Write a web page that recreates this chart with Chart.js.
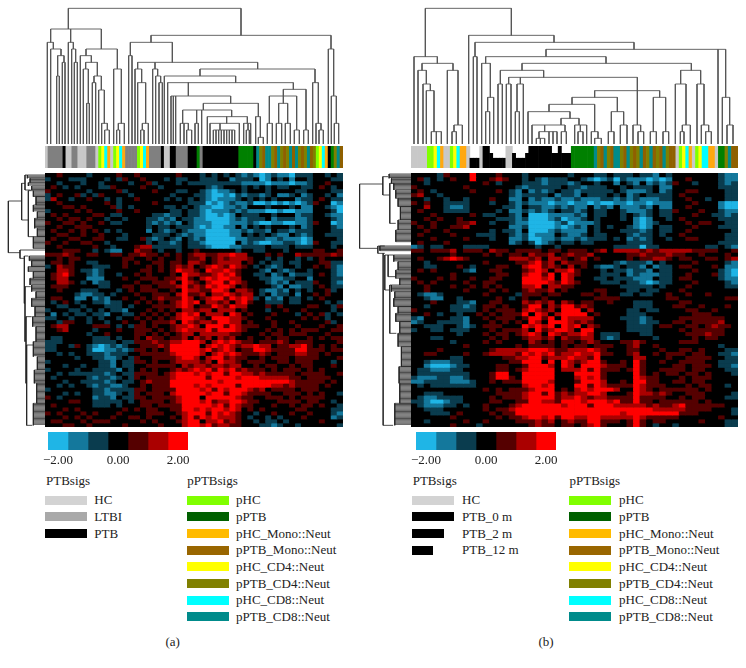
<!DOCTYPE html>
<html><head><meta charset="utf-8">
<script src="https://cdn.jsdelivr.net/npm/chart.js@4"></script>
<style>
html,body{margin:0;padding:0;background:#fff;width:746px;height:668px;overflow:hidden}
canvas{position:absolute;display:block}
#heatA,#heatB{background:#000}
.t{position:absolute;font:13px 'Liberation Serif',serif;color:#222;white-space:nowrap;line-height:14px}
.s{position:absolute;height:9px}
</style></head><body>
<script>
const heatColors=['#1fb5e6','#14789c','#0a3c4e','#000000','#550000','#aa0000','#ff0000'];
const scaleBins=[-2.333,-1.667,-1,-0.333,0.333,1,1.667,2.333];
const scaleTicks=[-2,0,2];
const annotColors={L:'#c8c8c8',G:'#808080',K:'#000000',P:'#80ff00',D:'#008000',O:'#ffa810',B:'#8f6000',Y:'#ffff00',V:'#808000',C:'#00ffff',T:'#008b8b'};

const heatRowsA=[
"33433 33233 33433 43333 33433 32323 23212 10121 10222 33232",
"23332 22333 23243 34333 23223 32223 31222 30132 31332 33322",
"33233 32332 33332 33423 33232 22222 22211 11011 10112 33433",
"34323 23332 24333 34332 33333 33212 33323 23232 23322 34323",
"43333 33233 33423 33343 33223 32101 12323 33233 33223 33322",
"23433 42324 33332 33333 32333 22100 10212 21231 12312 33231",
"25332 33433 23233 43333 23232 32101 11232 32323 33122 34322",
"33433 33333 43233 33343 33332 22010 12112 00101 01012 43301",
"33344 34333 34232 33333 22323 21100 11213 33233 32311 33210",
"23333 43433 33433 43333 32232 21011 12121 11001 00111 33320",
"34343 33344 32233 33322 12232 21001 01322 23323 33122 33211",
"33434 43433 23323 33221 21322 11000 01212 22312 22112 33321",
"43344 34334 32233 33212 12132 11100 01112 10011 00112 43301",
"33433 44433 33333 33232 23222 10100 11313 23233 32312 33321",
"34334 34343 23233 33132 12321 11000 01121 22132 21222 33322",
"33443 34334 33323 33322 23212 11000 01132 32321 13212 33222",
"34334 43344 33223 34212 32132 12000 00112 22112 11101 33332",
"43343 34433 23333 33232 21232 21000 00312 10011 22101 43322",
"33433 33343 32333 45522 22232 22100 01122 22322 23222 33323",
"33344 43323 21133 54432 33233 43333 33233 22333 23333 44334",
"44454 33443 34434 45443 43434 55445 56553 33434 33544 44454",
"33434 43333 33344 33434 33434 45345 45554 33232 33232 34333",
"34434 33223 33343 43344 34435 54345 55534 32322 32233 34422",
"23544 33322 23343 33434 34545 34565 46543 23212 33233 43421",
"33554 32212 33333 34434 34655 43655 65433 32132 12332 33321",
"34564 33212 33233 43433 34365 54456 56433 22312 31222 34321",
"34553 33111 33343 34443 44564 35656 65533 32211 22331 33322",
"33554 32312 23333 43344 45365 43566 46543 33212 13222 43321",
"34443 33332 23344 34434 44564 54656 65343 33321 31122 34322",
"33433 32223 33234 34443 34365 54466 53554 32112 13232 33423",
"33333 21122 32333 43344 43564 45355 65455 32312 23133 43433",
"34433 11312 13343 34345 44465 34566 46565 23121 32232 34333",
"32343 23322 12233 43434 34565 63554 53564 33222 32233 33232",
"33223 32333 22232 33344 44565 34465 46553 33434 33334 43324",
"23332 23232 32213 33434 34355 45535 55343 33233 43343 33323",
"31323 22322 13322 34343 43565 63555 36534 33343 33234 34232",
"22332 33232 33233 43434 34566 54366 65543 33433 33343 43233",
"33244 33233 23343 34344 45365 45546 65534 33343 34333 33423",
"34553 33344 43232 44343 34556 53666 46544 43343 33433 34334",
"33453 33323 33433 44434 34565 55646 66543 33434 34344 43344",
"33333 33233 43333 44343 43455 35555 54433 34344 34443 33433",
"32233 33322 23233 43544 34453 54535 45334 33434 43334 34344",
"22233 33322 22322 44454 45566 65356 56544 34445 43444 33334",
"22332 43210 12123 34445 46666 63565 65455 65534 45564 34343",
"22333 33200 11212 44343 46666 65645 65344 66544 44664 44344",
"33232 33222 12223 34444 45666 65356 56544 45434 44554 43433",
"33333 23322 11232 43344 44566 53566 45443 34344 43444 43334",
"23333 33332 21322 44343 34555 54536 55434 44334 43444 33323",
"33323 32332 21322 33444 44354 55455 45533 43443 34344 33343",
"23333 23322 22132 34343 34545 65646 56454 44343 44434 34333",
"33232 22222 12322 44443 45666 56566 46655 45444 44344 44334",
"32333 33212 21232 43444 45666 66466 66566 65555 54434 44433",
"33323 32222 12322 34544 46666 66665 66666 66666 65444 44343",
"33232 33212 21123 34344 46666 56566 66466 66655 45444 43433",
"23333 33322 12222 44344 44666 65646 56665 45344 44344 43333",
"33323 23322 11232 43444 35666 66566 46654 44433 44434 34332",
"43233 33312 21322 44344 44566 63666 66544 33444 34344 44333",
"33334 43322 22232 34444 34566 65645 56654 43334 44434 43323",
"34333 33322 23233 34434 44466 66656 46544 33343 34344 34332",
"33343 43333 33343 43443 34466 56566 56534 34333 33443 33322",
"43433 34343 33433 33444 33456 66465 65433 23343 34334 33321",
"33343 43433 34334 43433 34356 46565 55432 33232 33343 33312",
"34433 34344 43333 34343 33456 63556 45433 23223 23333 34333",
"33344 33433 33343 33334 33356 65645 54433 32212 33233 33332"];

const heatRowsB=[
"33332 43336 33343 33233 33332 33322 32223 22132 33333 33211",
"34232 34336 33454 33232 12223 32101 20211 10101 33433 33211",
"33233 33333 34323 33222 12221 23323 31321 31212 43323 33212",
"43333 33343 33333 32122 22232 21222 33232 22311 33333 33222",
"34323 33334 33343 21312 12322 12222 23211 12312 33443 33322",
"45332 33333 33333 21222 23122 13222 32312 32222 34333 33322",
"33233 23323 33433 11312 11211 21112 21212 11122 33433 23322",
"43433 22223 33233 21211 10110 11010 01101 10111 33343 33100",
"33533 21123 33332 21322 11212 11312 13111 21311 33433 33100",
"34333 22223 33323 11212 12322 12322 33211 12322 43334 33211",
"33343 33334 32233 21300 01111 21322 33232 12322 33343 32212",
"33434 33433 33322 21200 01201 12323 33231 01332 34333 33222",
"43343 33445 33233 21100 00120 11123 33331 01233 33434 43322",
"34343 34453 33333 11200 00101 21323 23321 01322 33343 33222",
"33433 43333 33232 21300 01211 11323 33222 12322 33433 33332",
"34333 34333 22233 21201 11321 12322 33321 22323 34333 33322",
"33343 33343 33233 11200 11211 21222 32312 12332 33443 33322",
"34333 43333 33333 12320 12322 32233 33322 22333 33333 33222",
"12322 33322 22333 33332 33233 33333 32222 02233 33333 22321",
"44344 45344 43544 34444 34434 44345 35555 45455 55544 44334",
"33333 34333 34343 44354 45345 44533 33344 54445 44334 33343",
"34334 56543 33333 55545 35543 45343 33343 44554 34433 44345",
"33233 33333 34333 34456 45354 44333 32122 21323 33343 33321",
"33223 33432 33344 33566 45435 34321 12322 13122 34433 34311",
"34343 33321 33443 33456 53556 43332 32212 21322 33343 33210",
"33333 34333 33344 33566 46365 43332 22312 11122 33433 34210",
"43334 34334 33443 33666 56365 33322 32221 11322 34433 33211",
"34343 33343 34433 33666 65465 43332 22322 10122 33343 33321",
"33433 34334 34343 33556 35544 33333 33222 22323 33433 33322",
"33433 33343 33434 33454 45343 33344 33322 32233 34333 33333",
"32112 33333 34333 32444 34433 34434 33223 22334 33433 43333",
"33211 33233 33343 23433 43333 33344 44333 33334 43333 33344",
"33343 33221 33443 33545 45354 34433 43332 22333 34433 33333",
"33233 32212 34434 33466 35466 45433 33332 22333 44334 33343",
"43333 32222 34344 43565 45366 63533 33322 32233 33443 34333",
"33432 33233 43434 44636 53566 66343 33322 23333 33344 43333",
"21333 32213 34344 43466 46365 55533 33222 12333 34444 44433",
"12332 22213 33434 34365 36665 45433 33322 12233 44344 44533",
"33222 33212 34443 33656 56365 63543 33322 22344 33443 45443",
"23322 32223 33434 44536 45665 36633 33322 22333 34344 44433",
"33333 33233 34344 34565 36545 56532 22333 22333 33444 54433",
"33322 33333 33434 33455 45354 45532 12333 33233 33343 44333",
"33333 32333 34343 33354 34344 34543 33445 43333 34443 33333",
"33333 33343 33333 34344 44343 44344 43345 33433 33333 33233",
"33334 33333 33455 55566 65445 55654 33344 33343 34434 33322",
"33443 33343 34555 54656 56455 65564 43345 33434 44344 33221",
"33333 32233 33334 45566 45556 55463 33335 53334 33444 43322",
"33211 12233 33333 44666 36365 45664 33436 43343 34444 33222",
"33100 01223 33344 33466 65365 36665 44436 43333 44344 43221",
"32211 12233 33344 34566 66355 56464 44346 43344 44344 33322",
"32222 22223 33466 33666 66333 66664 33336 43434 43443 43332",
"21112 21123 33466 43666 66333 56564 33336 54433 34344 43333",
"11222 21112 33434 44666 65333 46665 33436 64433 44344 33333",
"32322 22222 33333 33566 56333 66465 44446 54443 33434 43323",
"33333 33333 34343 44456 66343 56566 65336 54344 44443 43333",
"33222 33333 33344 44566 46454 55665 33346 55454 33444 33332",
"32112 22233 33434 44566 66455 65455 44446 44443 34344 33322",
"22100 12233 33443 34466 55466 65666 56446 44344 44443 43333",
"32111 22323 34333 45666 66656 66466 65555 54544 56444 44433",
"33222 33333 34344 56666 66666 66666 66666 66555 55444 43332",
"33322 23433 33434 46666 66666 66666 66566 66666 64443 33332",
"33333 34333 33343 44566 56466 55665 55556 54444 43333 33433",
"33233 33343 34333 34445 45345 44664 44346 43443 33334 33322",
"33333 34333 23333 33345 44344 34564 33346 43233 23333 33322"];

const annotA="LGGGGGKLLGGLLLGGGL PYCO L PYCO GGGG PYCO GGGG K LL KK GGGG KKK D G KKKKKKKKKKKK DDDDD K TVBTTVBTVBVTBTVBVTBV PYCO K D V T B";
const annotB="LLLLL PPYCO LLPYCOOL KKK L KK K KKKK LL K KKK K KKKKKKK KK K KKK DDDDDDD TVBTVBTTVBTVBVTBVTBVBTVBB L PYCO L PYCCOO L DD V T BB";
const annotHeightB="999999999999999999 444 9 99 6 4444 99 6 444 6 9999999 66 9 666";

// dendrogram merges: [merge height, child position, child height, child position, child height, ...]
const LEAF=432;
const treeTopA=[
[25,205,87,723,106],[87,152,127,212,127,304,147],[127,142,LEAF,160,147],[147,152,LEAF,183,167],[167,173,228,192,187],
[228,170,LEAF,178,LEAF],[187,187,LEAF,195,LEAF],[127,205,LEAF,220,147],[147,215,LEAF,227,187],[187,223,LEAF,232,LEAF],
[147,258,167,352,207],[167,241,LEAF,274,187],[187,257,207,292,228],[207,250,LEAF,265,310],[310,260,LEAF,268,LEAF],
[228,282,248,304,270],[248,277,LEAF,287,LEAF],[270,296,LEAF,313,370],[370,305,LEAF,322,390],[390,314,LEAF,328,LEAF],
[207,341,LEAF,364,370],[370,355,390,373,LEAF],[390,350,LEAF,359,LEAF],
[106,453,127,993,147],[127,391,167,517,187],[167,386,LEAF,396,LEAF],[187,413,207,465,207,773,207],
[207,405,LEAF,425,248],[248,413,LEAF,437,370],[370,427,390,445,LEAF],[390,422,LEAF,432,LEAF],
[207,458,LEAF,473,228],[228,467,LEAF,482,248],[248,477,LEAF,487,LEAF],
[207,600,228,945,248],[228,493,LEAF,707,248],[248,503,LEAF,565,288,880,268],
[288,513,LEAF,520,LEAF,527,LEAF,692,310],[310,610,330,775,350],[330,548,370,590,370,605,LEAF,695,350],
[350,622,LEAF,680,370,742,370],[370,630,LEAF,660,390,718,LEAF],
[390,640,LEAF,648,LEAF,656,LEAF,664,LEAF,672,LEAF,680,LEAF,688,LEAF,696,LEAF,704,LEAF],
[370,731,LEAF,744,390,752,LEAF],[390,739,LEAF,748,LEAF],[370,541,LEAF,552,LEAF,565,390],[390,560,LEAF,575,LEAF],[370,585,LEAF,595,LEAF],
[350,767,LEAF,781,412],[412,775,LEAF,790,LEAF],
[268,850,288,918,390],[288,808,370,850,310,890,390],[370,802,LEAF,817,LEAF],[310,836,370,863,370],[370,829,LEAF,845,LEAF],[370,856,LEAF,871,LEAF],
[390,883,LEAF,898,LEAF],[390,911,LEAF,925,LEAF],
[248,938,LEAF,955,370],[370,948,LEAF,963,390],[390,957,LEAF,970,LEAF],
[147,985,LEAF,1001,288],[288,994,LEAF,1009,370],[370,1003,LEAF,1016,LEAF]];

const treeTopB=[
[25,167,170,425,106],[170,133,LEAF,203,190],[190,157,211,250,211],[211,145,LEAF,170,252],[252,160,LEAF,182,272],[272,170,LEAF,193,395],
[395,185,LEAF,200,LEAF,215,LEAF],[211,233,LEAF,265,375],[375,253,395,278,LEAF],[395,247,LEAF,260,LEAF],
[106,297,LEAF,553,127],[127,316,170,793,148],[170,311,LEAF,322,LEAF],[148,529,170,1045,LEAF,1068,292],
[292,1058,LEAF,1080,375],[375,1072,LEAF,1090,LEAF],
[170,348,190,709,190],[190,336,LEAF,362,292],[292,354,335,372,LEAF],[335,348,LEAF,360,LEAF],
[190,457,211,965,211],[211,392,252,522,232],[252,385,LEAF,398,LEAF],[232,417,252,452,252,803,272],[252,410,LEAF,424,LEAF],
[252,442,335,461,LEAF],[335,437,LEAF,449,LEAF],
[272,675,292,803,375,870,292],[292,607,313,743,335],[313,538,335,675,395],[335,475,LEAF,601,355],[355,574,375,628,375],
[375,487,LEAF,525,395,586,395],[395,508,415,538,LEAF,550,LEAF,562,LEAF],[415,500,LEAF,512,LEAF,525,LEAF],[395,575,LEAF,590,LEAF],
[375,615,LEAF,632,395,651,LEAF],[395,625,LEAF,640,LEAF],[395,665,LEAF,685,415],[415,675,LEAF,695,LEAF],
[335,725,395,762,375],[395,716,LEAF,733,LEAF],[375,752,LEAF,772,LEAF],[375,790,LEAF,813,395],[395,805,LEAF,822,LEAF],
[292,851,395,888,395],[395,842,LEAF,860,LEAF],[395,880,LEAF,897,LEAF],
[211,933,252,993,252],[252,917,LEAF,949,375],[375,938,395,962,LEAF],[395,932,LEAF,943,LEAF],
[252,982,LEAF,1003,375],[375,995,LEAF,1017,395],[395,1008,LEAF,1025,LEAF]];

const TIP_A=135, TIP_B=124;
const treeLeftA=[[25,93,65,248,60],[65,40,75,150,85],[75,15,82,60,92],[85,62,100,200,100],
[60,240,TIP_A,265,73],[73,258,85,400,75],[75,350,92,515,78],[78,440,95,640,80],[80,525,100,766,97]];
const leafCombsA=[[15,25,82],[25,38,90],[38,48,85],[48,60,95],[62,80,100],[80,105,108],[105,125,100],[125,145,112],[145,175,104],[175,200,112],[200,235,100],[258,272,88],[272,290,95],[290,305,85],[305,325,100],[325,345,90],[345,365,95],[365,385,108],[385,410,95],[410,440,105],[440,470,98],[470,515,108],[515,560,100],[560,600,112],[600,640,103],[640,700,110],[700,766,100]];
const treeLeftB=[[-31,42,39,235,24],[39,20,55,75,60],[60,40,72,160,78],
[24,228,45,250,40],[40,250,45,766,70],[45,255,55,360,60],[55,255,72,320,78],[60,345,65,490,80]];
const leafCombsB=[[12,25,58],[25,40,65],[40,60,72],[60,85,78],[85,110,85],[110,150,92],[150,180,85],[180,215,78],[228,242,30],[255,275,72],[275,300,85],[300,325,78],[325,345,90],[345,365,65],[365,385,75],[385,410,72],[410,430,85],[430,455,78],[455,490,90],[490,530,85],[530,590,95],[590,640,88],[640,700,90],[700,766,75]];

const legendLeftA=[['HC','#d3d3d3',42],['LTBI','#a9a9a9',42],['PTB','#000000',42]];
const legendLeftB=[['HC','#d3d3d3',42],['PTB_0 m','#000000',42],['PTB_2 m','#000000',32],['PTB_12 m','#000000',21]];
const legendRight=[['pHC','#80ff00'],['pPTB','#006000'],['pHC_Mono::Neut','#ffbb00'],['pPTB_Mono::Neut','#996600'],['pHC_CD4::Neut','#ffff00'],['pPTB_CD4::Neut','#808000'],['pHC_CD8::Neut','#00ffff'],['pPTB_CD8::Neut','#008b8b']];

function cv(id,l,t,w,h){const c=document.createElement('canvas');c.id=id;c.width=w;c.height=h;
 c.style.cssText=`left:${l}px;top:${t}px;width:${w}px;height:${h}px`;document.body.appendChild(c);return c;}
const base={animation:false,responsive:false,maintainAspectRatio:false,events:[],layout:{padding:0},plugins:{legend:{display:false},tooltip:{enabled:false}}};

function heat(id,l,t,w,h,rows){
 const grid=rows.map(r=>r.replace(/\s/g,'').split('').map(Number));
 const labels=grid[0].map((_,i)=>i);
 new Chart(cv(id,l,t,w,h),{type:'bar',data:{labels,datasets:grid.map((row,r)=>({
   data:row.map(()=>[r,r+1]),backgroundColor:row.map(v=>heatColors[v]),borderWidth:0,grouped:false,barPercentage:1,categoryPercentage:1}))},
  options:{...base,scales:{x:{display:false},y:{display:false,reverse:true,min:0,max:grid.length}}}});
}
function annot(id,l,t,w,h,str,hts){
 const keys=str.replace(/\s/g,'').split('');
 const hh=(hts||'').replace(/\s/g,'').split('').map(Number);
 new Chart(cv(id,l,t,w,h),{type:'bar',data:{labels:keys.map((_,i)=>i),datasets:[{
   data:keys.map((_,i)=>hh[i]||9),backgroundColor:keys.map(k=>annotColors[k]),borderWidth:0,barPercentage:1,categoryPercentage:1}]},
  options:{...base,scales:{x:{display:false},y:{display:false,min:0,max:9}}}});
}
function topLines(tree){const p=[];tree.forEach(n=>{const top=n[0],ch=[];for(let i=1;i<n.length;i+=2)ch.push([n[i],n[i+1]]);
  p.push({x:Math.min(...ch.map(c=>c[0])),y:top},{x:Math.max(...ch.map(c=>c[0])),y:top},{x:NaN,y:NaN});
  ch.forEach(c=>p.push({x:c[0],y:top},{x:c[0],y:c[1]},{x:NaN,y:NaN}));});return p;}
function leftLines(tree,combs,tip){const p=[];tree.forEach(n=>{const d=n[0],ch=[];for(let i=1;i<n.length;i+=2)ch.push([n[i],n[i+1]]);
  p.push({x:d,y:Math.min(...ch.map(c=>c[0]))},{x:d,y:Math.max(...ch.map(c=>c[0]))},{x:NaN,y:NaN});
  ch.forEach(c=>p.push({x:d,y:c[0]},{x:c[1],y:c[0]},{x:NaN,y:NaN}));});
 combs.forEach(c=>{p.push({x:c[2],y:c[0]},{x:c[2],y:c[1]},{x:NaN,y:NaN});
  for(let y=c[0];y<=c[1];y+=3.5)p.push({x:c[2],y},{x:tip,y},{x:NaN,y:NaN});});return p;}
function tree(id,l,t,w,h,pts,xmin,xmax,ymax,width,color){
 new Chart(cv(id,l,t,w,h),{type:'scatter',data:{datasets:[{data:pts,showLine:true,spanGaps:false,pointRadius:0,borderColor:color,borderWidth:width}]},
  options:{...base,scales:{x:{display:false,type:'linear',min:xmin,max:xmax},y:{display:false,type:'linear',reverse:true,min:0,max:ymax}}}});
}
function scaleBar(id,l,t){
 const ds=heatColors.map((c,i)=>({data:[[scaleBins[i],scaleBins[i+1]]],backgroundColor:c,borderWidth:0,grouped:false,barPercentage:1,categoryPercentage:1}));
 new Chart(cv(id,l,t,180,36),{type:'bar',data:{labels:[''],datasets:ds},options:{...base,indexAxis:'y',layout:{padding:{left:20,right:20}},
  scales:{y:{display:false},x:{type:'linear',min:scaleBins[0],max:scaleBins[7],border:{display:false},grid:{display:false,drawTicks:false},
   afterBuildTicks:s=>{s.ticks=scaleTicks.map(v=>({value:v}));},
   ticks:{autoSkip:false,maxRotation:0,padding:3,color:'#222',font:{family:'Liberation Serif',size:13},callback:v=>(v<0?'\u2212':'')+Math.abs(v).toFixed(2)}}}}});
}
function txt(s,l,cy,center){const d=document.createElement('div');d.className='t';d.textContent=s;
 d.style.left=l+'px';d.style.top=(cy-7)+'px';if(center)d.style.transform='translateX(-50%)';document.body.appendChild(d);}
function sw(l,cy,w,c){const d=document.createElement('div');d.className='s';d.style.cssText=`left:${l}px;top:${cy-4.5}px;width:${w}px;background:${c}`;document.body.appendChild(d);}
function legend(x1,tx1,x2,tx2,left){
 txt('PTBsigs',x1+1,481);txt('pPTBsigs',x2+0.5,481);
 left.forEach((e,i)=>{const y=500.3+i*16.67;sw(x1,y,e[2],e[1]);txt(e[0],tx1,y);});
 legendRight.forEach((e,i)=>{const y=500.3+i*16.67;sw(x2,y,42,e[1]);txt(e[0],tx2,y);});
}

heat('heatA',45,173,298,254,heatRowsA);
heat('heatB',411,173,327,254,heatRowsB);
annot('annA',45,146,298,22,annotA);
annot('annB',411,146,327,22,annotB,annotHeightB);
tree('topA',45,0,298,145,topLines(treeTopA),135,1029,435,0.9,'#555');
tree('topB',411,0,327,145,topLines(treeTopB),124,1105,435,0.9,'#555');
tree('leftA',0,170,45,265,leftLines(treeLeftA,leafCombsA,TIP_A),0,135,795,0.8,'#222');
tree('leftB',350,170,61,265,leftLines(treeLeftB,leafCombsB,TIP_B),-60,124,795,0.8,'#222');
scaleBar('barA',28,432);
scaleBar('barB',396,432);
legend(45,94.3,186.7,236,legendLeftA);
legend(411.7,462,569,619,legendLeftB);
txt('(a)',172.7,642.3,true);
txt('(b)',546,642.3,true);
</script>
</body></html>
